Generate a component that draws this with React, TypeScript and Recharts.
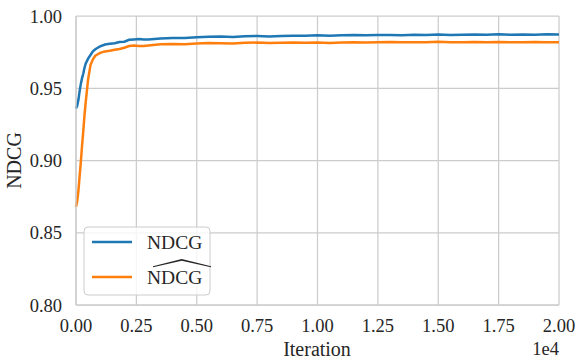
import React from 'react'
import { LineChart, Line, XAxis, YAxis, CartesianGrid, Customized } from 'recharts'

// iteration in units of 1e4
const iterations = [
  0, 0.005, 0.01, 0.015, 0.02, 0.025, 0.03, 0.035, 0.04, 0.05, 0.06, 0.07, 0.08, 0.09, 0.1,
  0.12, 0.14, 0.16, 0.18, 0.2, 0.22, 0.24, 0.26, 0.28, 0.3,
  0.35, 0.4, 0.45, 0.5, 0.55, 0.6, 0.65, 0.7, 0.75, 0.8, 0.85, 0.9, 0.95, 1.0,
  1.05, 1.1, 1.15, 1.2, 1.25, 1.3, 1.35, 1.4, 1.45, 1.5, 1.55, 1.6, 1.65, 1.7, 1.75,
  1.8, 1.85, 1.9, 1.95, 2.0,
]

const ndcg = [
  0.936, 0.938, 0.942, 0.948, 0.953, 0.957, 0.96, 0.964, 0.967, 0.9705, 0.973, 0.9755, 0.977, 0.978, 0.979,
  0.9803, 0.9808, 0.9812, 0.982, 0.9822, 0.9835, 0.9838, 0.984, 0.9838, 0.9837,
  0.9845, 0.9847, 0.9848, 0.9853, 0.9856, 0.9858, 0.9855, 0.986, 0.9862, 0.9858, 0.9861, 0.9863, 0.9864, 0.9866,
  0.9863, 0.9866, 0.9868, 0.9866, 0.9868, 0.9869, 0.9867, 0.987, 0.9869, 0.9872, 0.9868, 0.987, 0.9872, 0.9871, 0.9873,
  0.987, 0.9872, 0.9871, 0.9873, 0.9872,
]

const ndcgHat = [
  0.868, 0.872, 0.879, 0.889, 0.899, 0.91, 0.92, 0.931, 0.94, 0.956, 0.966, 0.97, 0.9725, 0.9735, 0.9745,
  0.9755, 0.976, 0.9766, 0.9772, 0.978, 0.9792, 0.9795, 0.9793, 0.9792, 0.9796,
  0.9804, 0.9806, 0.9805, 0.981, 0.9813, 0.9812, 0.981, 0.9815, 0.9816, 0.9813, 0.9815, 0.9816, 0.9815, 0.9817,
  0.9814, 0.9816, 0.9818, 0.9816, 0.9819, 0.982, 0.9818, 0.9819, 0.9818, 0.9821, 0.9818, 0.9819, 0.982, 0.9818, 0.982,
  0.9818, 0.9819, 0.982, 0.9819, 0.9818,
]

const xTicks = [0, 0.25, 0.5, 0.75, 1.0, 1.25, 1.5, 1.75, 2.0]
const yTicks = [0.8, 0.85, 0.9, 0.95, 1.0]

const data = iterations.map((x, i) => ({ x, ndcg: ndcg[i], ndcgHat: ndcgHat[i] }))

const FONT = '"Liberation Serif"'
const INK = '#262626'
const GRID = '#cccccc'
const BLUE = '#1f77b4'
const ORANGE = '#ff7f0e'

const serif = { fontFamily: FONT }

function XTick({ x, y, payload }: any) {
  return (
    <text x={x} y={y} dy={13.2} textAnchor="middle" fontSize={18.5} fill={INK} style={serif}>
      {payload.value.toFixed(2)}
    </text>
  )
}

function YTick({ x, y, payload }: any) {
  return (
    <text x={x} y={y} dy={6.5} textAnchor="end" fontSize={18.5} fill={INK} style={serif}>
      {payload.value.toFixed(2)}
    </text>
  )
}

function Extras() {
  return (
    <g fill={INK}>
      <text x={20.5} y={160.5} fontSize={20} textAnchor="middle" transform="rotate(-90 20.5 160.5)" style={serif}>NDCG</text>
      <text x={317} y={356} fontSize={20} textAnchor="middle" style={serif}>Iteration</text>
      <text x={559} y={355} fontSize={18.5} textAnchor="end" style={serif}>1e4</text>
      {/* legend */}
      <rect x={84} y={227} width={126} height={68} rx={4} fill="#fff" fillOpacity={0.8} stroke={GRID} strokeWidth={1} />
      <line x1={92} x2={132} y1={242} y2={242} stroke={BLUE} strokeWidth={2.5} />
      <line x1={92} x2={132} y1={277} y2={277} stroke={ORANGE} strokeWidth={2.5} />
      <text x={147} y={248.5} fontSize={19.5} style={serif}>NDCG</text>
      <text x={147} y={283.5} fontSize={19.5} style={serif}>NDCG</text>
      <path d="M153 266.3 L181.7 259 L211 266.3 L211 267.2 L181.7 260.8 L153 267.2 Z" fill={INK} />
    </g>
  )
}

export default function App() {
  return (
    <div style={{ position: 'absolute', left: 0, top: 0, background: '#fff' }}>
      <LineChart width={582} height={364} data={data} margin={{ top: 16, right: 23, left: 0, bottom: 0 }}>
        <CartesianGrid stroke={GRID} strokeWidth={1.25} />
        <XAxis
          dataKey="x"
          type="number"
          domain={[0, 2]}
          ticks={xTicks}
          tick={<XTick />}
          tickLine={false}
          tickSize={0}
          tickMargin={13.5}
          axisLine={{ stroke: GRID, strokeWidth: 1.25 }}
          height={59}
          interval={0}
        />
        <YAxis
          type="number"
          domain={[0.8, 1.0]}
          ticks={yTicks}
          tick={<YTick />}
          tickLine={false}
          tickSize={0}
          tickMargin={14}
          axisLine={{ stroke: GRID, strokeWidth: 1.25 }}
          width={76}
          interval={0}
          allowDataOverflow
        />
        <Line dataKey="ndcg" stroke={BLUE} strokeWidth={2.5} dot={false} isAnimationActive={false} type="linear" />
        <Line dataKey="ndcgHat" stroke={ORANGE} strokeWidth={2.5} dot={false} isAnimationActive={false} type="linear" />
        <Customized component={Extras} />
      </LineChart>
    </div>
  )
}
